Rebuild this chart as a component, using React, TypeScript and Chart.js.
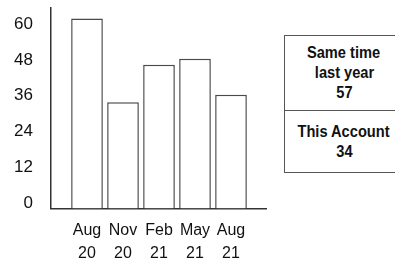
import { useEffect, useRef } from 'react';
import { Chart, registerables } from 'chart.js';

Chart.register(...registerables);

const categories: string[][] = [
  ['Aug', '20'],
  ['Nov', '20'],
  ['Feb', '21'],
  ['May', '21'],
  ['Aug', '21'],
];
const values: number[] = [63.5, 35.5, 48, 50, 38];
const yTicks: number[] = [0, 12, 24, 36, 48, 60];
const lastYearLines: string[] = ['Same time', 'last year'];
const lastYearValue = 57;
const accountLabel = 'This Account';
const accountValue = 34;

const FONT = "'Liberation Sans', Arial, sans-serif";

export default function App() {
  const ref = useRef<HTMLCanvasElement>(null);

  useEffect(() => {
    if (!ref.current) return;
    const labels = [[''], ...categories, ['']];
    const data = [null, ...values, null];
    const chart = new Chart(ref.current, {
      type: 'bar',
      data: {
        labels,
        datasets: [
          {
            data,
            backgroundColor: '#ffffff',
            borderColor: '#4a4a4a',
            borderWidth: 1.5,
            barPercentage: 0.88,
            categoryPercentage: 1,
          },
        ],
      },
      options: {
        animation: false,
        responsive: false,
        devicePixelRatio: 1,
        layout: { padding: { top: 8, left: 0, right: 0, bottom: 0 } },
        plugins: { legend: { display: false }, tooltip: { enabled: false } },
        scales: {
          x: {
            offset: false,
            grid: { display: false, drawTicks: false },
            border: { color: '#333', width: 1.5 },
            ticks: {
              padding: 10,
              color: '#111',
              maxRotation: 0,
              autoSkip: false,
              font: { family: FONT, size: 16, lineHeight: 1.45 },
            },
            afterFit: (s: any) => {
              s.height = 53.5;
              s.paddingLeft = 0;
              s.paddingRight = 0;
            },
          },
          y: {
            min: 0,
            max: 67,
            grid: { display: false, drawTicks: false },
            border: { color: '#333', width: 1.5 },
            ticks: {
              padding: 18,
              labelOffset: -5,
              color: '#111',
              font: { family: FONT, size: 17 },
            },
            afterBuildTicks: (s: any) => {
              s.ticks = yTicks.map((v) => ({ value: v }));
            },
            afterFit: (s: any) => {
              s.width = 51;
              s.paddingTop = 0;
              s.paddingBottom = 0;
            },
          },
        },
      },
    });
    return () => chart.destroy();
  }, []);

  const Line = ({ text }: { text: string | number }) => (
    <div style={{ lineHeight: '20px', height: 20, whiteSpace: 'nowrap' }}>
      <span style={{ display: 'inline-block', transform: 'scaleX(0.86)' }}>{text}</span>
    </div>
  );

  return (
    <div
      style={{
        position: 'fixed',
        left: 0,
        top: 0,
        width: 395,
        height: 262,
        overflow: 'hidden',
        background: '#fff',
      }}
    >
      <canvas
        ref={ref}
        width={267}
        height={262}
        style={{ position: 'absolute', left: 0, top: 0, width: 267, height: 262 }}
      />
      <div
        style={{
          position: 'absolute',
          left: 284,
          top: 35,
          width: 120,
          height: 138,
          boxSizing: 'border-box',
          border: '1.5px solid #555',
          fontFamily: FONT,
          fontWeight: 'bold',
          fontSize: 17,
          color: '#111',
          textAlign: 'center',
          display: 'flex',
          flexDirection: 'column',
        }}
      >
        <div
          style={{
            height: 74,
            display: 'flex',
            flexDirection: 'column',
            justifyContent: 'center',
          }}
        >
          {lastYearLines.map((l) => (
            <Line key={l} text={l} />
          ))}
          <Line text={lastYearValue} />
        </div>
        <div
          style={{
            flex: 1,
            borderTop: '1.5px solid #555',
            display: 'flex',
            flexDirection: 'column',
            justifyContent: 'center',
          }}
        >
          <Line text={accountLabel} />
          <Line text={accountValue} />
        </div>
      </div>
    </div>
  );
}
